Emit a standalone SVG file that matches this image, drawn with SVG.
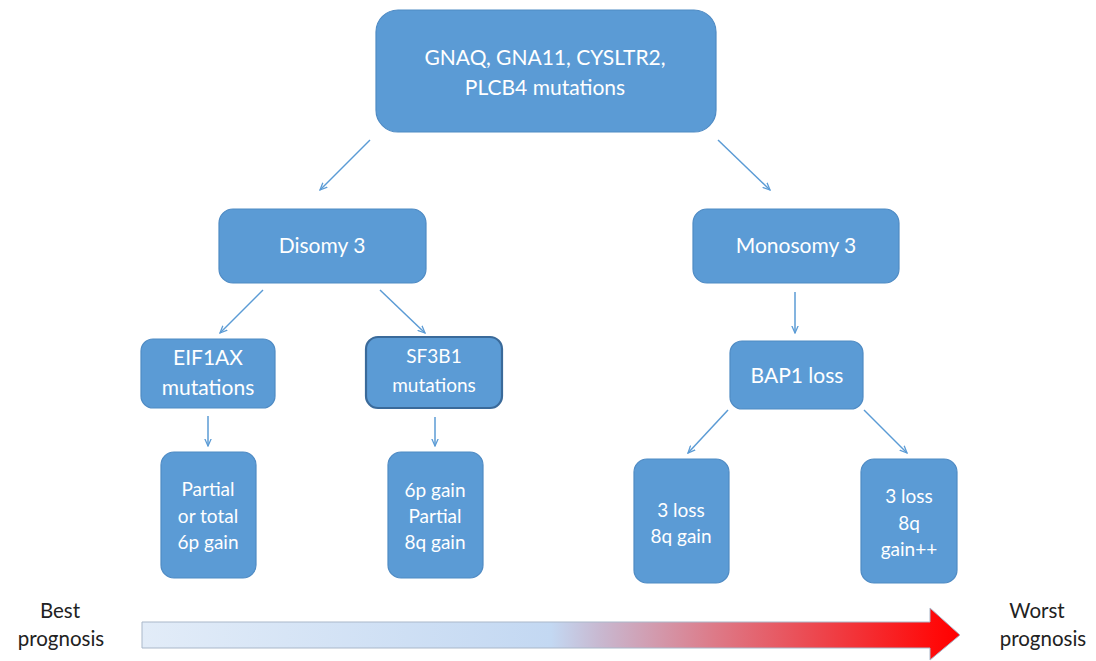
<svg xmlns="http://www.w3.org/2000/svg" width="1096" height="661" viewBox="0 0 1096 661">
<style>
.box{fill:#5B9BD5;stroke:#4F8BC4;stroke-width:1.2}
.boxd{fill:#5B9BD5;stroke:#3A6A9A;stroke-width:2.2}
.t{font-family:Lato,"Open Sans",sans-serif;fill:#FFFFFF;text-anchor:middle;font-size:21px}
.ts{font-family:Lato,"Open Sans",sans-serif;fill:#FFFFFF;text-anchor:middle;font-size:19px}
.c{stroke:#5B9BD5;stroke-width:1.5;fill:none;marker-end:url(#ah)}
.lbl{font-family:Lato,"Open Sans",sans-serif;fill:#222;text-anchor:middle;font-size:20.5px}
</style>
<defs>
<marker id="ah" viewBox="0 0 10 10" refX="9" refY="5" markerWidth="8" markerHeight="8" orient="auto" markerUnits="userSpaceOnUse">
<path d="M0,1 L9,5 L0,9" fill="none" stroke="#5B9BD5" stroke-width="1.6"/>
</marker>
<linearGradient id="grad" x1="0" y1="0" x2="1" y2="0">
<stop offset="0" stop-color="#E2ECF8"/>
<stop offset="0.5" stop-color="#C3D8F2"/>
<stop offset="0.56" stop-color="#C8B8D0"/>
<stop offset="0.7" stop-color="#DD7A88"/>
<stop offset="0.97" stop-color="#FF0A0A"/>
<stop offset="1" stop-color="#FF0000"/>
</linearGradient>
</defs>
<rect width="1096" height="661" fill="#FFFFFF"/>
<g id="connectors">
<line class="c" x1="370" y1="140" x2="320" y2="190"/>
<line class="c" x1="718" y1="140" x2="770" y2="190"/>
<line class="c" x1="263" y1="290" x2="220" y2="333"/>
<line class="c" x1="380" y1="290" x2="425" y2="333"/>
<line class="c" x1="795" y1="292" x2="795" y2="333"/>
<line class="c" x1="208" y1="416" x2="208" y2="446"/>
<line class="c" x1="435" y1="417" x2="435" y2="446"/>
<line class="c" x1="728" y1="410" x2="688" y2="453"/>
<line class="c" x1="864" y1="410" x2="907" y2="453"/>
</g>
<g id="n-top">
<rect class="box" x="376" y="10" width="340" height="122" rx="22"/>
<text class="t" x="545" y="65">GNAQ, GNA11, CYSLTR2,</text>
<text class="t" x="545" y="95">PLCB4 mutations</text>
</g>
<g id="n-disomy">
<rect class="box" x="219" y="209" width="207" height="74" rx="14"/>
<text class="t" x="322" y="253">Disomy 3</text>
</g>
<g id="n-monosomy">
<rect class="box" x="693" y="209" width="206" height="74" rx="14"/>
<text class="t" x="796" y="253">Monosomy 3</text>
</g>
<g id="n-eif1ax">
<rect class="box" x="141" y="339" width="134" height="69" rx="12"/>
<text class="t" x="208" y="365">EIF1AX</text>
<text class="t" x="208" y="395">mutations</text>
</g>
<g id="n-sf3b1">
<rect class="boxd" x="366" y="337" width="136" height="71" rx="12"/>
<text class="ts" x="434" y="363">SF3B1</text>
<text class="ts" x="434" y="392">mutations</text>
</g>
<g id="n-bap1">
<rect class="box" x="730" y="341" width="133" height="68" rx="12"/>
<text class="t" x="797" y="383">BAP1 loss</text>
</g>
<g id="n-partial">
<rect class="box" x="161" y="452" width="95" height="126" rx="13"/>
<text class="ts" x="208" y="496">Partial</text>
<text class="ts" x="208" y="523">or total</text>
<text class="ts" x="208" y="549">6p gain</text>
</g>
<g id="n-6pgain">
<rect class="box" x="388" y="452" width="95" height="126" rx="13"/>
<text class="ts" x="435" y="497">6p gain</text>
<text class="ts" x="435" y="523">Partial</text>
<text class="ts" x="435" y="549">8q gain</text>
</g>
<g id="n-3loss">
<rect class="box" x="634" y="459" width="95" height="124" rx="13"/>
<text class="ts" x="681" y="517">3 loss</text>
<text class="ts" x="681" y="543">8q gain</text>
</g>
<g id="n-3lossplus">
<rect class="box" x="861" y="459" width="96" height="124" rx="13"/>
<text class="ts" x="909" y="503">3 loss</text>
<text class="ts" x="909" y="530">8q</text>
<text class="ts" x="909" y="556">gain++</text>
</g>
<g id="prognosis">
<path d="M142,622 L930,622 L930,608 L960,635 L930,660 L930,648 L142,648 Z" fill="url(#grad)" stroke="#A9B7C9" stroke-width="1"/>
<text class="lbl" x="60" y="618">Best</text>
<text class="lbl" x="61" y="646">prognosis</text>
<text class="lbl" x="1037" y="618">Worst</text>
<text class="lbl" x="1043" y="646">prognosis</text>
</g>
</svg>
